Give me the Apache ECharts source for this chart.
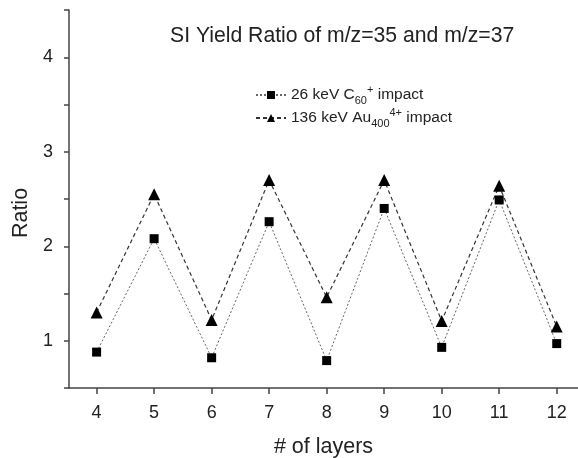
<!DOCTYPE html>
<html>
<head>
<meta charset="utf-8">
<script src="https://cdn.jsdelivr.net/npm/echarts@6/dist/echarts.min.js"></script>
<style>
  html, body { margin: 0; padding: 0; background: #fff; }
  #chart { width: 578px; height: 458px; }
</style>
</head>
<body>
<div id="chart"></div>
<script>
const layers = [4, 5, 6, 7, 8, 9, 10, 11, 12]
const c60Ratio = [0.88, 2.08, 0.82, 2.26, 0.79, 2.40, 0.93, 2.49, 0.97]
const au400Ratio = [1.30, 2.55, 1.22, 2.70, 1.46, 2.70, 1.21, 2.64, 1.15]
const yTicks = [1, 2, 3, 4]

const font = 'Liberation Sans, Arial, sans-serif'
const ink = '#222'

const chart = echarts.init(document.getElementById('chart'))

function pairs(ys) {
  return layers.map((x, i) => [x, ys[i]])
}

chart.setOption({
  animation: false,
  textStyle: { fontFamily: font, color: ink },
  title: {
    text: 'SI Yield Ratio of m/z=35 and m/z=37',
    left: 165,
    top: 21,
    textStyle: { fontFamily: font, fontSize: 21.2, fontWeight: 'normal', color: ink }
  },
  legend: {
    orient: 'vertical',
    left: 250,
    top: 79,
    itemWidth: 30,
    itemHeight: 10,
    itemGap: 1,
    formatter: function (name) {
      if (name === 'c60') {
        return '{t|26 keV C}{sub|60}{sup|+}{t| impact}'
      }
      return '{t|136 keV Au}{sub|400}{sup|4+}{t| impact}'
    },
    textStyle: {
      fontFamily: font,
      color: ink,
      rich: {
        t: { fontSize: 15.5, lineHeight: 22, fontFamily: font, color: ink },
        sub: { fontSize: 11, lineHeight: 22, verticalAlign: 'bottom', fontFamily: font, color: ink },
        sup: { fontSize: 11, lineHeight: 22, verticalAlign: 'top', fontFamily: font, color: ink }
      }
    }
  },
  grid: { left: 69, right: 0, top: 10, bottom: 70, outerBoundsMode: 'none' },
  xAxis: {
    type: 'value',
    min: 3.52,
    max: 12.37,
    name: '# of layers',
    nameLocation: 'middle',
    nameGap: 48,
    nameTextStyle: { fontFamily: font, fontSize: 21.5, color: ink },
    splitLine: { show: false },
    axisLine: { lineStyle: { color: '#444', width: 1.5 } },
    axisTick: { customValues: layers, length: 6, lineStyle: { color: '#444', width: 1.5 } },
    axisLabel: { customValues: layers, fontSize: 18, color: ink, margin: 16 }
  },
  yAxis: {
    type: 'value',
    min: 0.5,
    max: 4.5,
    interval: 0.5,
    name: 'Ratio',
    nameLocation: 'middle',
    nameGap: 35,
    nameTextStyle: { fontFamily: font, fontSize: 21.5, color: ink, padding: [0, 28, 0, 0] },
    splitLine: { show: false },
    axisLine: { show: true, lineStyle: { color: '#444', width: 1.5 } },
    axisTick: { length: 5, lineStyle: { color: '#444', width: 1.5 } },
    axisLabel: {
      fontSize: 18,
      color: ink,
      margin: 16,
      formatter: v => (yTicks.includes(v) ? String(v) : '')
    }
  },
  series: [
    {
      name: 'c60',
      type: 'line',
      data: pairs(c60Ratio),
      symbol: 'rect',
      symbolSize: 9,
      itemStyle: { color: '#000' },
      lineStyle: { color: '#666', width: 1, type: [2, 2] }
    },
    {
      name: 'au400',
      type: 'line',
      data: pairs(au400Ratio),
      symbol: 'triangle',
      symbolSize: 12,
      itemStyle: { color: '#000' },
      lineStyle: { color: '#333', width: 1.2, type: [4, 3] }
    }
  ]
})
</script>
</body>
</html>
